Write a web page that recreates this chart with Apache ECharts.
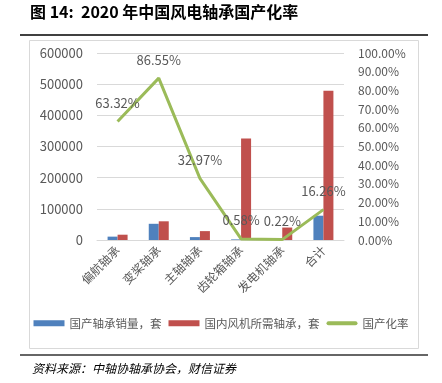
<!DOCTYPE html>
<html><head><meta charset="utf-8">
<script src="https://cdn.jsdelivr.net/npm/echarts@6/dist/echarts.min.js"></script>
<style>html,body{margin:0;padding:0;background:#fff}#c{width:442px;height:383px}</style>
</head><body><div id="c"></div>
<script>
var categories = ['偏航轴承','变桨轴承','主轴轴承','齿轮箱轴承','发电机轴承','合计'];
var domesticSales = [10800, 52000, 9300, 1900, 90, 77900];
var domesticDemand = [17000, 60000, 28500, 326000, 40000, 479000];
var localizationRate = [63.32, 86.55, 32.97, 0.58, 0.22, 16.26];
var leftTicks = [0, 100000, 200000, 300000, 400000, 500000, 600000];
var seriesNames = ['国产轴承销量，套','国内风机所需轴承，套','国产化率'];
var titleText = '图 14:  2020 年中国风电轴承国产化率';
var sourceText = '资料来源：中轴协轴承协会，财信证券';

var chart = echarts.init(document.getElementById('c'));
var gray = '#595959';
var font = '"Noto Sans CJK SC", "Noto Sans", sans-serif';
chart.setOption({
  animation: false,
  textStyle: {fontFamily: font},
  grid: {left: 97, right: 98, top: 53, bottom: 143},
  legend: {
    bottom: 49, left: 'center', itemGap: 7, itemWidth: 31, itemHeight: 6,
    textStyle: {color: gray, fontSize: 11.5, fontFamily: font},
    data: [
      {name: seriesNames[0], icon: 'rect'},
      {name: seriesNames[1], icon: 'rect'},
      {name: seriesNames[2], icon: 'path://M2,0 L29,0 A2,2 0 0 1 29,4 L2,4 A2,2 0 0 1 2,0 Z', itemStyle: {color: '#9BBB59'}}
    ]
  },
  xAxis: {
    type: 'category', data: categories,
    axisLine: {lineStyle: {color: '#d9d9d9'}},
    axisTick: {show: false},
    axisLabel: {rotate: 45, color: gray, fontSize: 12, interval: 0, margin: 8}
  },
  yAxis: [
    {type: 'value', min: leftTicks[0], max: leftTicks[leftTicks.length-1], interval: 100000,
     axisLine: {show: false}, axisTick: {show: false},
     axisLabel: {color: gray, fontSize: 13, margin: 14, formatter: function(v){return String(v);}},
     splitLine: {lineStyle: {color: '#d9d9d9'}}},
    {type: 'value', min: 0, max: 100, interval: 10,
     axisLine: {show: false}, axisTick: {show: false},
     axisLabel: {color: gray, fontSize: 12, margin: 14, formatter: function(v){return v.toFixed(2)+'%';}},
     splitLine: {show: false}}
  ],
  series: [
    {name: seriesNames[0], type: 'bar', data: domesticSales, barWidth: 10, barGap: '0%',
     itemStyle: {color: '#4F81BD'}},
    {name: seriesNames[1], type: 'bar', data: domesticDemand, barWidth: 10,
     itemStyle: {color: '#C0504D'}},
    {name: seriesNames[2], type: 'line', yAxisIndex: 1, data: localizationRate,
     symbol: 'circle', symbolSize: 0.1, showSymbol: true,
     lineStyle: {color: '#9BBB59', width: 3}, itemStyle: {color: '#9BBB59'},
     label: {show: true, position: 'top', distance: 12, color: gray, fontSize: 13,
       formatter: function(p){return p.value.toFixed(2)+'%';}}}
  ],
  graphic: [
    {type: 'text', left: 30, top: 4, style: {text: titleText, font: 'bold 16px "Noto Sans CJK SC", sans-serif', fill: '#000'}},
    {type: 'line', shape: {x1: 20, y1: 35, x2: 428, y2: 35}, style: {stroke: '#000', lineWidth: 1.5}},
    {type: 'rect', shape: {x: 29.5, y: 40.5, width: 389, height: 308}, style: {fill: 'none', stroke: '#d9d9d9', lineWidth: 1}, z: -1},
    {type: 'line', shape: {x1: 20, y1: 355, x2: 428, y2: 355}, style: {stroke: '#333', lineWidth: 1.5}},
    {type: 'text', left: 32, top: 362, style: {text: sourceText, font: 'italic 12px "Noto Sans CJK SC", sans-serif', fill: '#000'}}
  ]
});
</script></body></html>
